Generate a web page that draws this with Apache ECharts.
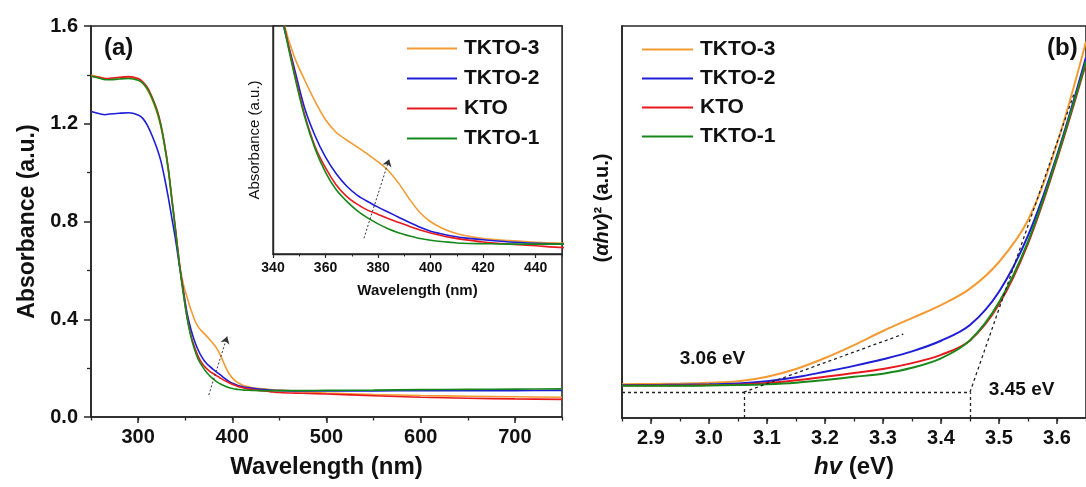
<!DOCTYPE html>
<html>
<head>
<meta charset="utf-8">
<script src="https://cdn.jsdelivr.net/npm/echarts@6/dist/echarts.min.js"></script>
<style>
  html, body { margin: 0; padding: 0; background: #fff; }
  #chart { width: 1086px; height: 487px; }
</style>
</head>
<body>
<div id="chart"></div>
<script>
// ---- (a) UV-vis absorbance spectra ----
const wavelength = [250, 260, 265, 270, 280, 290, 300, 305, 310, 315,
                    320, 324, 328, 332, 336, 340, 344, 348, 352, 356,
                    360, 364, 368, 372, 376, 380, 384, 388, 392, 396,
                    400, 404, 408, 412, 420, 430, 440, 450, 475, 500,
                    550, 600, 650, 700, 750];
const absTKTO3 = [1.398, 1.390, 1.385, 1.384, 1.388, 1.390, 1.380, 1.365, 1.338, 1.298,
                  1.245, 1.190, 1.110, 1.010, 0.880, 0.750, 0.625, 0.545, 0.490, 0.440,
                  0.397, 0.368, 0.350, 0.334, 0.317, 0.299, 0.278, 0.248, 0.212, 0.181,
                  0.160, 0.146, 0.136, 0.129, 0.121, 0.116, 0.112, 0.110, 0.104, 0.098,
                  0.092, 0.088, 0.085, 0.083, 0.081];
const absTKTO2 = [1.250, 1.240, 1.237, 1.240, 1.243, 1.245, 1.236, 1.222, 1.192, 1.150,
                  1.100, 1.050, 0.980, 0.900, 0.810, 0.720, 0.615, 0.520, 0.425, 0.360,
                  0.310, 0.272, 0.243, 0.222, 0.207, 0.194, 0.182, 0.170, 0.158, 0.147,
                  0.138, 0.132, 0.127, 0.123, 0.118, 0.113, 0.110, 0.108, 0.107, 0.107,
                  0.107, 0.108, 0.108, 0.108, 0.109];
const absKTO   = [1.395, 1.389, 1.385, 1.386, 1.390, 1.393, 1.385, 1.372, 1.348, 1.308,
                  1.258, 1.200, 1.120, 1.020, 0.890, 0.760, 0.625, 0.510, 0.410, 0.335,
                  0.285, 0.246, 0.219, 0.201, 0.187, 0.177, 0.167, 0.158, 0.149, 0.141,
                  0.134, 0.128, 0.123, 0.119, 0.113, 0.108, 0.104, 0.100, 0.097, 0.094,
                  0.087, 0.081, 0.077, 0.074, 0.072];
const absTKTO1 = [1.395, 1.385, 1.380, 1.380, 1.383, 1.385, 1.378, 1.366, 1.342, 1.303,
                  1.252, 1.195, 1.115, 1.015, 0.885, 0.755, 0.620, 0.505, 0.405, 0.330,
                  0.275, 0.235, 0.208, 0.186, 0.169, 0.155, 0.143, 0.134, 0.127, 0.121,
                  0.117, 0.114, 0.112, 0.110, 0.109, 0.108, 0.108, 0.108, 0.108, 0.109,
                  0.110, 0.112, 0.113, 0.114, 0.115];
// trend arrows (wavelength, absorbance)
const arrowMain  = [[375, 0.09], [394.5, 0.329]];
const arrowInset = [[374.6, 0.1215], [384.2, 0.305]];

// ---- (b) Tauc plot ----
const energy = [2.85, 2.90, 2.95, 3.00, 3.05, 3.10, 3.15, 3.20, 3.25, 3.30,
                3.35, 3.40, 3.45, 3.50, 3.55, 3.60, 3.65];
const taucTKTO3 = [0.086, 0.087, 0.088, 0.090, 0.094, 0.105, 0.125, 0.153, 0.186, 0.222,
                   0.255, 0.288, 0.330, 0.398, 0.505, 0.700, 0.960];
const taucTKTO2 = [0.084, 0.084, 0.085, 0.086, 0.088, 0.094, 0.104, 0.118, 0.133, 0.150,
                   0.170, 0.197, 0.237, 0.322, 0.465, 0.670, 0.920];
const taucKTO   = [0.083, 0.083, 0.083, 0.084, 0.085, 0.089, 0.096, 0.105, 0.115, 0.125,
                   0.140, 0.161, 0.198, 0.290, 0.445, 0.660, 0.905];
const taucTKTO1 = [0.082, 0.082, 0.082, 0.083, 0.084, 0.086, 0.090, 0.097, 0.105, 0.113,
                   0.128, 0.152, 0.198, 0.295, 0.450, 0.665, 0.910];
const bandGaps = [3.06, 3.45];          // eV
const gapBaseline = 0.066;              // level of the extrapolation baseline
const tangentEnds = [[3.335, 0.214], [3.63, 0.83]];
const gapLabelPos = [[3.006, 0.150], [3.539, 0.073]];

const seriesNames = ['TKTO-3', 'TKTO-2', 'KTO', 'TKTO-1'];
const colors = ['#F39B32', '#1E1ED8', '#E8191E', '#17891A'];

const FONT = "'Liberation Sans', Arial, Helvetica, sans-serif";
const INK = '#111';
const AXIS = '#262626';

const pairs = (xs, ys) => xs.map((x, i) => [x, ys[i]]);
const absSets = [absTKTO3, absTKTO2, absKTO, absTKTO1];
const taucSets = [taucTKTO3, taucTKTO2, taucKTO, taucTKTO1];

const axisLine = { show: true, onZero: false, lineStyle: { color: AXIS, width: 1.6 } };
const tickLbl = (size) => ({ color: INK, fontFamily: FONT, fontWeight: 'bold', fontSize: size });

const chart = echarts.init(document.getElementById('chart'), null, { renderer: 'canvas' });

const series = [];
// main spectra
absSets.forEach((d, i) => {
  series.push({
    name: seriesNames[i], type: 'line', xAxisIndex: 0, yAxisIndex: 0,
    data: pairs(wavelength, d), symbol: 'none', smooth: 0.3,
    lineStyle: { color: colors[i], width: 1.6 }, itemStyle: { color: colors[i] }, z: 2,
    markLine: i === 0 ? {
      silent: true, symbol: ['none', 'arrow'], symbolSize: 7,
      label: { show: false },
      lineStyle: { color: '#333', type: [2, 2], width: 1 },
      data: [[{ coord: arrowMain[0] }, { coord: arrowMain[1] }]]
    } : undefined
  });
});
// inset spectra
absSets.forEach((d, i) => {
  series.push({
    name: seriesNames[i], type: 'line', xAxisIndex: 2, yAxisIndex: 1,
    data: pairs(wavelength, d), symbol: 'none', smooth: 0.3,
    lineStyle: { color: colors[i], width: 1.6 }, itemStyle: { color: colors[i] }, z: 7,
    markLine: i === 0 ? {
      silent: true, symbol: ['none', 'arrow'], symbolSize: 7, z: 8,
      label: { show: false },
      lineStyle: { color: '#333', type: [2, 2], width: 1 },
      data: [[{ coord: arrowInset[0] }, { coord: arrowInset[1] }]]
    } : undefined
  });
});
// Tauc curves
taucSets.forEach((d, i) => {
  const s = {
    name: seriesNames[i], type: 'line', xAxisIndex: 4, yAxisIndex: 2,
    data: pairs(energy, d), symbol: 'none', smooth: 0.35,
    lineStyle: { color: colors[i], width: 2 }, itemStyle: { color: colors[i] }, z: 2
  };
  if (i === 3) {
    s.markLine = {
      silent: true, symbol: ['none', 'none'], label: { show: false },
      lineStyle: { color: '#222', type: [3, 3], width: 1.3 },
      data: [
        [{ coord: [energy[0], gapBaseline] }, { coord: [bandGaps[1], gapBaseline] }],
        [{ coord: [bandGaps[0], 0] }, { coord: [bandGaps[0], gapBaseline] }],
        [{ coord: [bandGaps[1], 0] }, { coord: [bandGaps[1], gapBaseline] }],
        [{ coord: [bandGaps[0], gapBaseline] }, { coord: tangentEnds[0] }],
        [{ coord: [bandGaps[1], gapBaseline] }, { coord: tangentEnds[1] }]
      ]
    };
    s.markPoint = {
      silent: true, symbol: 'circle', symbolSize: 0,
      label: {
        show: true, position: 'inside', color: INK, fontFamily: FONT,
        fontWeight: 'bold', fontSize: 19, formatter: (p) => p.name
      },
      data: bandGaps.map((g, k) => ({ name: g.toFixed(2) + ' eV', coord: gapLabelPos[k] }))
    };
  }
  series.push(s);
});

const option = {
  animation: false,
  backgroundColor: '#fff',
  textStyle: { fontFamily: FONT },
  grid: [
    { left: 91, top: 26, width: 471, height: 391, show: true, borderColor: AXIS, borderWidth: 1.6, backgroundColor: 'transparent' },
    { left: 273, top: 26, width: 289, height: 228, show: true, borderColor: AXIS, borderWidth: 1.4, backgroundColor: '#fff', z: 5 },
    { left: 622, top: 26, width: 471, height: 392, show: true, borderColor: AXIS, borderWidth: 1.6, backgroundColor: 'transparent' }
  ],
  xAxis: [
    { // (a) labelled ticks
      type: 'value', gridIndex: 0, position: 'bottom', min: 250, max: 750,
      minInterval: 100, maxInterval: 100,
      axisLine, axisTick: { show: true, length: 6, lineStyle: { color: AXIS, width: 1.5 } },
      axisLabel: Object.assign(tickLbl(20), { margin: 10, showMinLabel: false, showMaxLabel: false }),
      splitLine: { show: false },
      name: 'Wavelength (nm)', nameLocation: 'middle', nameGap: 38,
      nameTextStyle: { color: INK, fontFamily: FONT, fontWeight: 'bold', fontSize: 24 }
    },
    { // (a) short ticks every 50 nm
      type: 'value', gridIndex: 0, position: 'bottom', min: 250, max: 750, interval: 50,
      axisLine: { show: false }, axisLabel: { show: false }, splitLine: { show: false },
      axisTick: { show: true, length: 3.5, lineStyle: { color: AXIS, width: 1.3 } }
    },
    { // inset labelled ticks
      type: 'value', gridIndex: 1, position: 'bottom', min: 340, max: 450, interval: 20, z: 6,
      axisLine: { show: true, onZero: false, lineStyle: { color: AXIS, width: 1.4 } },
      axisTick: { show: true, length: 4, lineStyle: { color: AXIS, width: 1.2 } },
      axisLabel: Object.assign(tickLbl(14), { margin: 7, showMaxLabel: false }),
      splitLine: { show: false },
      name: 'Wavelength (nm)', nameLocation: 'middle', nameGap: 29,
      nameTextStyle: { color: INK, fontFamily: FONT, fontWeight: 'bold', fontSize: 15 }
    },
    { // inset short ticks
      type: 'value', gridIndex: 1, position: 'bottom', min: 340, max: 450, interval: 10, z: 6,
      axisLine: { show: false }, axisLabel: { show: false }, splitLine: { show: false },
      axisTick: { show: true, length: 2.5, lineStyle: { color: AXIS, width: 1 } }
    },
    { // (b) labelled ticks
      type: 'value', gridIndex: 2, position: 'bottom', min: 2.85, max: 3.65,
      minInterval: 0.1, maxInterval: 0.1,
      axisLine, axisTick: { show: true, length: 6, lineStyle: { color: AXIS, width: 1.5 } },
      axisLabel: Object.assign(tickLbl(20), {
        margin: 10, showMinLabel: false, showMaxLabel: false,
        formatter: (v) => v.toFixed(1)
      }),
      splitLine: { show: false },
      name: '{i|hv}{n| (eV)}', nameLocation: 'middle', nameGap: 37,
      nameTextStyle: {
        color: INK, fontFamily: FONT, fontWeight: 'bold', fontSize: 24,
        rich: {
          i: { fontFamily: FONT, fontWeight: 'bold', fontStyle: 'italic', fontSize: 24, color: INK },
          n: { fontFamily: FONT, fontWeight: 'bold', fontSize: 24, color: INK }
        }
      }
    },
    { // (b) short ticks every 0.05 eV
      type: 'value', gridIndex: 2, position: 'bottom', min: 2.85, max: 3.65, interval: 0.05,
      axisLine: { show: false }, axisLabel: { show: false }, splitLine: { show: false },
      axisTick: { show: true, length: 3.5, lineStyle: { color: AXIS, width: 1.3 } }
    }
  ],
  yAxis: [
    {
      type: 'value', gridIndex: 0, min: 0, max: 1.6, interval: 0.4,
      axisLine, axisTick: { show: true, length: 7, lineStyle: { color: AXIS, width: 1.5 } },
      minorTick: { show: true, splitNumber: 2, length: 4, lineStyle: { color: AXIS, width: 1.3 } },
      axisLabel: Object.assign(tickLbl(20), { margin: 13, formatter: (v) => v.toFixed(1) }),
      splitLine: { show: false }, minorSplitLine: { show: false },
      name: 'Absorbance (a.u.)', nameLocation: 'middle', nameGap: 52, nameRotate: 90,
      nameTextStyle: { color: INK, fontFamily: FONT, fontWeight: 'bold', fontSize: 23 }
    },
    {
      type: 'value', gridIndex: 1, min: 0.085, max: 0.615, z: 6,
      axisLine: { show: true, onZero: false, lineStyle: { color: AXIS, width: 1.4 } },
      axisTick: { show: false }, axisLabel: { show: false }, splitLine: { show: false },
      name: 'Absorbance (a.u.)', nameLocation: 'middle', nameGap: 11, nameRotate: 90,
      nameTextStyle: { color: INK, fontFamily: FONT, fontSize: 15 }
    },
    {
      type: 'value', gridIndex: 2, min: 0, max: 1,
      axisLine, axisTick: { show: false }, axisLabel: { show: false }, splitLine: { show: false },
      name: '{n|(}{i|αhv}{n|)² (a.u.)}', nameLocation: 'middle', nameGap: 10, nameRotate: 90,
      nameTextStyle: {
        color: INK, fontFamily: FONT, fontWeight: 'bold', fontSize: 20,
        padding: [0, 0, 0, 28],
        rich: {
          i: { fontFamily: FONT, fontWeight: 'bold', fontStyle: 'italic', fontSize: 20, color: INK },
          n: { fontFamily: FONT, fontWeight: 'bold', fontSize: 20, color: INK }
        }
      }
    }
  ],
  legend: [
    {
      data: seriesNames, orient: 'vertical', left: 407, top: 38, z: 10, padding: 0,
      icon: 'rect', itemWidth: 50, itemHeight: 2, itemGap: 9, selectedMode: false,
      textStyle: { color: INK, fontFamily: FONT, fontWeight: 'bold', fontSize: 21, lineHeight: 20, padding: [0, 0, 0, 2] }
    },
    {
      data: seriesNames, orient: 'vertical', left: 642, top: 39, z: 10, padding: 0,
      icon: 'rect', itemWidth: 51, itemHeight: 2, itemGap: 8, selectedMode: false,
      textStyle: { color: INK, fontFamily: FONT, fontWeight: 'bold', fontSize: 21, lineHeight: 20, padding: [0, 0, 0, 2] }
    }
  ],
  graphic: [
    { type: 'text', left: 104, top: 36, z: 20,
      style: { text: '(a)', fill: INK, font: "bold 24px 'Liberation Sans', Arial, sans-serif" } },
    { type: 'text', left: 1047, top: 36, z: 20,
      style: { text: '(b)', fill: INK, font: "bold 24px 'Liberation Sans', Arial, sans-serif" } }
  ],
  series
};

chart.setOption(option);
</script>
</body>
</html>
